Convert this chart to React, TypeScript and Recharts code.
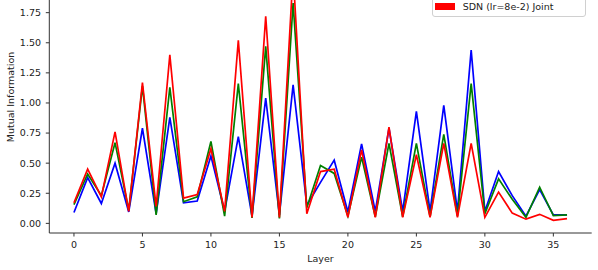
import React from "react";
import { LineChart, Line, XAxis, YAxis, Legend } from "recharts";

const layers = Array.from({ length: 37 }, (_, i) => i);

const separateMI = [
  0.09, 0.38, 0.165, 0.5, 0.095, 0.79, 0.08, 0.88, 0.17, 0.185, 0.56, 0.1, 0.72, 0.06, 1.04, 0.07, 1.15, 0.15, 0.34,
  0.525, 0.095, 0.66, 0.1, 0.79, 0.1, 0.93, 0.1, 0.98, 0.1, 1.44, 0.1, 0.43, 0.23, 0.06, 0.28, 0.07, 0.07,
];
const sequentialMI = [
  0.155, 0.41, 0.23, 0.67, 0.11, 1.14, 0.07, 1.13, 0.18, 0.22, 0.68, 0.06, 1.16, 0.045, 1.47, 0.04, 1.83, 0.13, 0.48,
  0.415, 0.06, 0.55, 0.055, 0.665, 0.055, 0.665, 0.055, 0.74, 0.06, 1.16, 0.08, 0.37, 0.2, 0.05, 0.3, 0.065, 0.07,
];
const jointMI = [
  0.17, 0.45, 0.22, 0.76, 0.1, 1.17, 0.14, 1.4, 0.21, 0.24, 0.62, 0.1, 1.52, 0.05, 1.72, 0.05, 2.08, 0.08, 0.43, 0.45,
  0.05, 0.61, 0.05, 0.8, 0.05, 0.57, 0.05, 0.665, 0.05, 0.665, 0.05, 0.26, 0.085, 0.035, 0.075, 0.025, 0.04,
];

const xTicks = [0, 5, 10, 15, 20, 25, 30, 35];
const yTicks = [0, 0.25, 0.5, 0.75, 1.0, 1.25, 1.5, 1.75];

const series = [
  { key: "separate", name: "SDN (lr=8e-2) Separate", color: "#0000ff" },
  { key: "sequential", name: "SDN (lr=8e-2) Sequential", color: "#008000" },
  { key: "joint", name: "SDN (lr=8e-2) Joint", color: "#ff0000" },
];

const data = layers.map((layer, i) => ({
  layer,
  separate: separateMI[i],
  sequential: sequentialMI[i],
  joint: jointMI[i],
}));

const font = "'DejaVu Sans', sans-serif";
const tickStyle = { fontSize: 9.5, fill: "#222", fontFamily: font };

function LegendBox() {
  return (
    <div
      style={{
        boxSizing: "border-box",
        width: 154,
        padding: "3px 0 2px 2px",
        background: "rgba(255,255,255,0.8)",
        border: "1px solid #d0d0d0",
        borderRadius: 3,
        fontFamily: font,
        fontSize: 9.5,
        color: "#222",
      }}
    >
      {series.map((s) => (
        <div key={s.key} style={{ height: 16, display: "flex", alignItems: "center" }}>
          <span style={{ display: "inline-block", width: 20, height: 7, background: s.color, marginRight: 8 }} />
          <span style={{ whiteSpace: "nowrap" }}>{s.name}</span>
        </div>
      ))}
    </div>
  );
}

export default function App() {
  return (
    <div style={{ position: "fixed", left: 0, top: 0, width: 598, height: 270, overflow: "hidden", background: "#fff" }}>
      <div style={{ position: "absolute", left: 0, top: -50 }}>
        <LineChart width={598} height={320} data={data} margin={{ top: 10.9, right: 6.3, bottom: 0, left: 0 }}>
          <XAxis
            dataKey="layer"
            type="number"
            domain={[-1.8, 37.8]}
            ticks={xTicks}
            allowDataOverflow
            height={37}
            tickSize={3.5}
            tickMargin={4.5}
            tick={tickStyle}
            stroke="#333"
            label={{ value: "Layer", position: "insideBottom", offset: 8.3, style: { ...tickStyle, textAnchor: "middle" } }}
          />
          <YAxis
            yAxisId="left"
            type="number"
            domain={[-0.08, 2.18]}
            ticks={yTicks}
            allowDataOverflow
            width={49.3}
            tickSize={3.5}
            tickMargin={4.8}
            tick={tickStyle}
            stroke="#333"
            tickFormatter={(v: number) => v.toFixed(2)}
            label={{
              value: "Mutual Information",
              angle: -90,
              position: "insideLeft",
              offset: 10.5,
              style: { ...tickStyle, textAnchor: "middle" },
            }}
          />
          <YAxis yAxisId="right" orientation="right" domain={[-0.08, 2.18]} width={0} tick={false} tickLine={false} stroke="#333" />
          <Legend
            layout="vertical"
            align="center"
            verticalAlign="middle"
            content={() => <LegendBox />}
            wrapperStyle={{ position: "absolute", left: 431.7, top: 12, width: 154, height: "auto" }}
          />
          {series.map((s) => (
            <Line
              key={s.key}
              yAxisId="left"
              type="linear"
              dataKey={s.key}
              name={s.name}
              stroke={s.color}
              strokeWidth={1.7}
              dot={false}
              activeDot={false}
              isAnimationActive={false}
            />
          ))}
        </LineChart>
      </div>
    </div>
  );
}
